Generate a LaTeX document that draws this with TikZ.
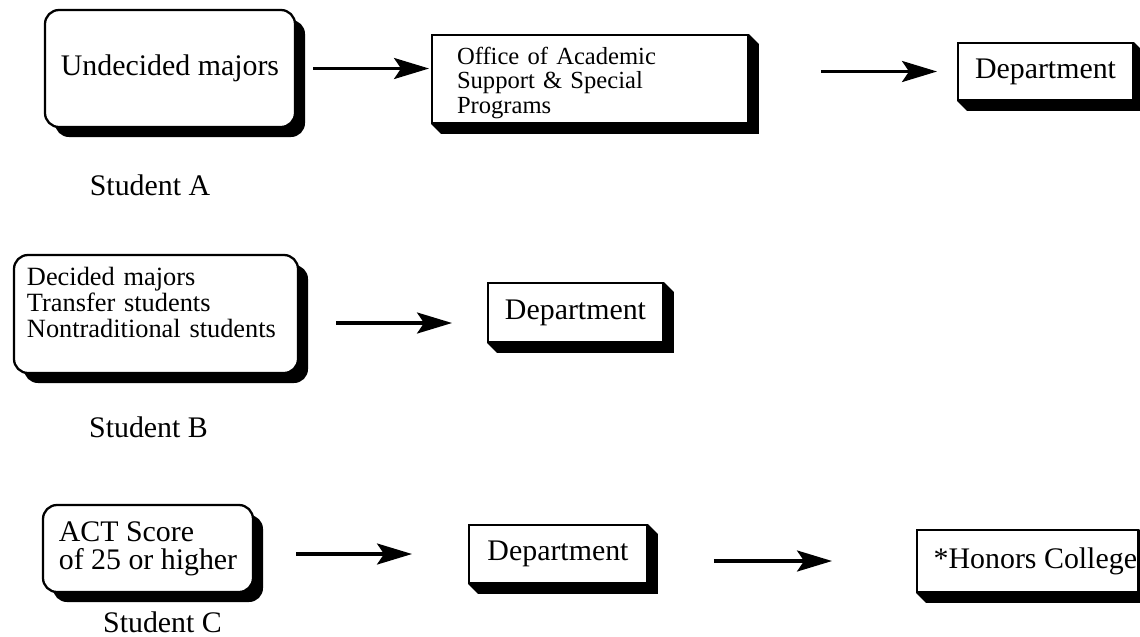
\documentclass[tikz,border=0pt]{standalone}
\usepackage{fontspec}
\setmainfont{Liberation Serif}
\usetikzlibrary{positioning, arrows.meta, shadows}
\newcommand{\bigtxt}{\fontsize{17}{17}\selectfont}
\newcommand{\acttxt}{\fontsize{17}{16}\selectfont}
\newcommand{\midtxt}{\fontsize{15}{15}\selectfont}
\newcommand{\smalltxt}{\fontsize{14}{14}\selectfont}

\begin{document}
\begin{tikzpicture}[
    >=Stealth,
    rbox/.style={draw, rounded corners=0.28cm, line width=1.3pt, fill=white, font=\bigtxt,
                 drop shadow={shadow xshift=0.2cm, shadow yshift=-0.2cm, fill=black, opacity=1}},
    sbox/.style={draw, line width=1.1pt, fill=white, inner sep=0pt, font=\bigtxt},
    flow/.style={-{Stealth[length=0.7cm, width=0.42cm, inset=0.14cm]}, line width=1.8pt},
    who/.style={font=\bigtxt, anchor=base},
]

\fill[white] (0,0) rectangle (22.8,-12.72);
\useasboundingbox (0,0) rectangle (22.8,-12.72);

\node[rbox, minimum width=5cm, minimum height=2.34cm] (und) at (3.40,-1.37) {Undecided majors};
\node[sbox, font=\smalltxt, text width=5.32cm, align=left, inner xsep=0.5cm, inner ysep=0pt,
      text height=0.58cm, text depth=1.18cm] (off) at (11.80,-1.58) {Office of Academic\\Support \& Special\\Programs};
\node[sbox, minimum width=3.5cm, minimum height=1.14cm] (depta) at (20.91,-1.43) {Department};
\node[who] (stua) at (3.00,-3.90) {Student A};

\node[rbox, font=\midtxt, text width=5.16cm, align=left, inner xsep=0.26cm, inner ysep=0pt,
      text height=0.6cm, text depth=1.76cm] (dec) at (3.12,-6.28)
      {Decided majors\\Transfer students\\Nontraditional students};
\node[sbox, minimum width=3.5cm, minimum height=1.18cm] (deptb) at (11.51,-6.25) {Department};
\node[who] (stub) at (2.97,-8.74) {Student B};

\node[rbox, font=\acttxt, align=left, minimum width=4.2cm, minimum height=1.74cm] (act) at (2.96,-10.97) {ACT Score\\of 25 or higher};
\node[sbox, minimum width=3.56cm, minimum height=1.16cm] (deptc) at (11.16,-11.08) {Department};
\node[sbox, minimum width=4.42cm, minimum height=1.24cm, text width=4.38cm, inner xsep=0.02cm,
      align=flush right] (hon) at (20.55,-11.22) {*Honors College};
\node[who] (stuc) at (3.25,-12.64) {Student C};

\fill (off.south west) -- ++(0.2,-0.2) -| ([shift={(0.2,-0.2)}]off.north east) -- (off.north east) -- (off.south east) -- cycle;
\fill (depta.south west) -- ++(0.2,-0.2) -| ([shift={(0.2,-0.2)}]depta.north east) -- (depta.north east) -- (depta.south east) -- cycle;
\fill (deptb.south west) -- ++(0.2,-0.2) -| ([shift={(0.2,-0.2)}]deptb.north east) -- (deptb.north east) -- (deptb.south east) -- cycle;
\fill (deptc.south west) -- ++(0.2,-0.2) -| ([shift={(0.2,-0.2)}]deptc.north east) -- (deptc.north east) -- (deptc.south east) -- cycle;
\fill (hon.south west) -- ++(0.2,-0.2) -| ([shift={(0.2,-0.2)}]hon.north east) -- (hon.north east) -- (hon.south east) -- cycle;

\draw[flow, shorten <=0.34cm, shorten >=0.04cm] (und.east) -- (und.east -| off.west);
\draw[flow, shorten <=1.44cm, shorten >=0.4cm] (depta.west -| off.east) -- (depta.west);
\draw[flow, shorten <=0.74cm, shorten >=0.7cm] ([yshift=-0.18cm]dec.east) -- ([yshift=-0.18cm]dec.east -| deptb.west);
\draw[flow, shorten <=0.84cm, shorten >=1.12cm] (deptc.west -| act.east) -- (deptc.west);
\draw[flow, shorten <=1.32cm, shorten >=1.68cm] (hon.west -| deptc.east) -- (hon.west);

\end{tikzpicture}
\end{document}
